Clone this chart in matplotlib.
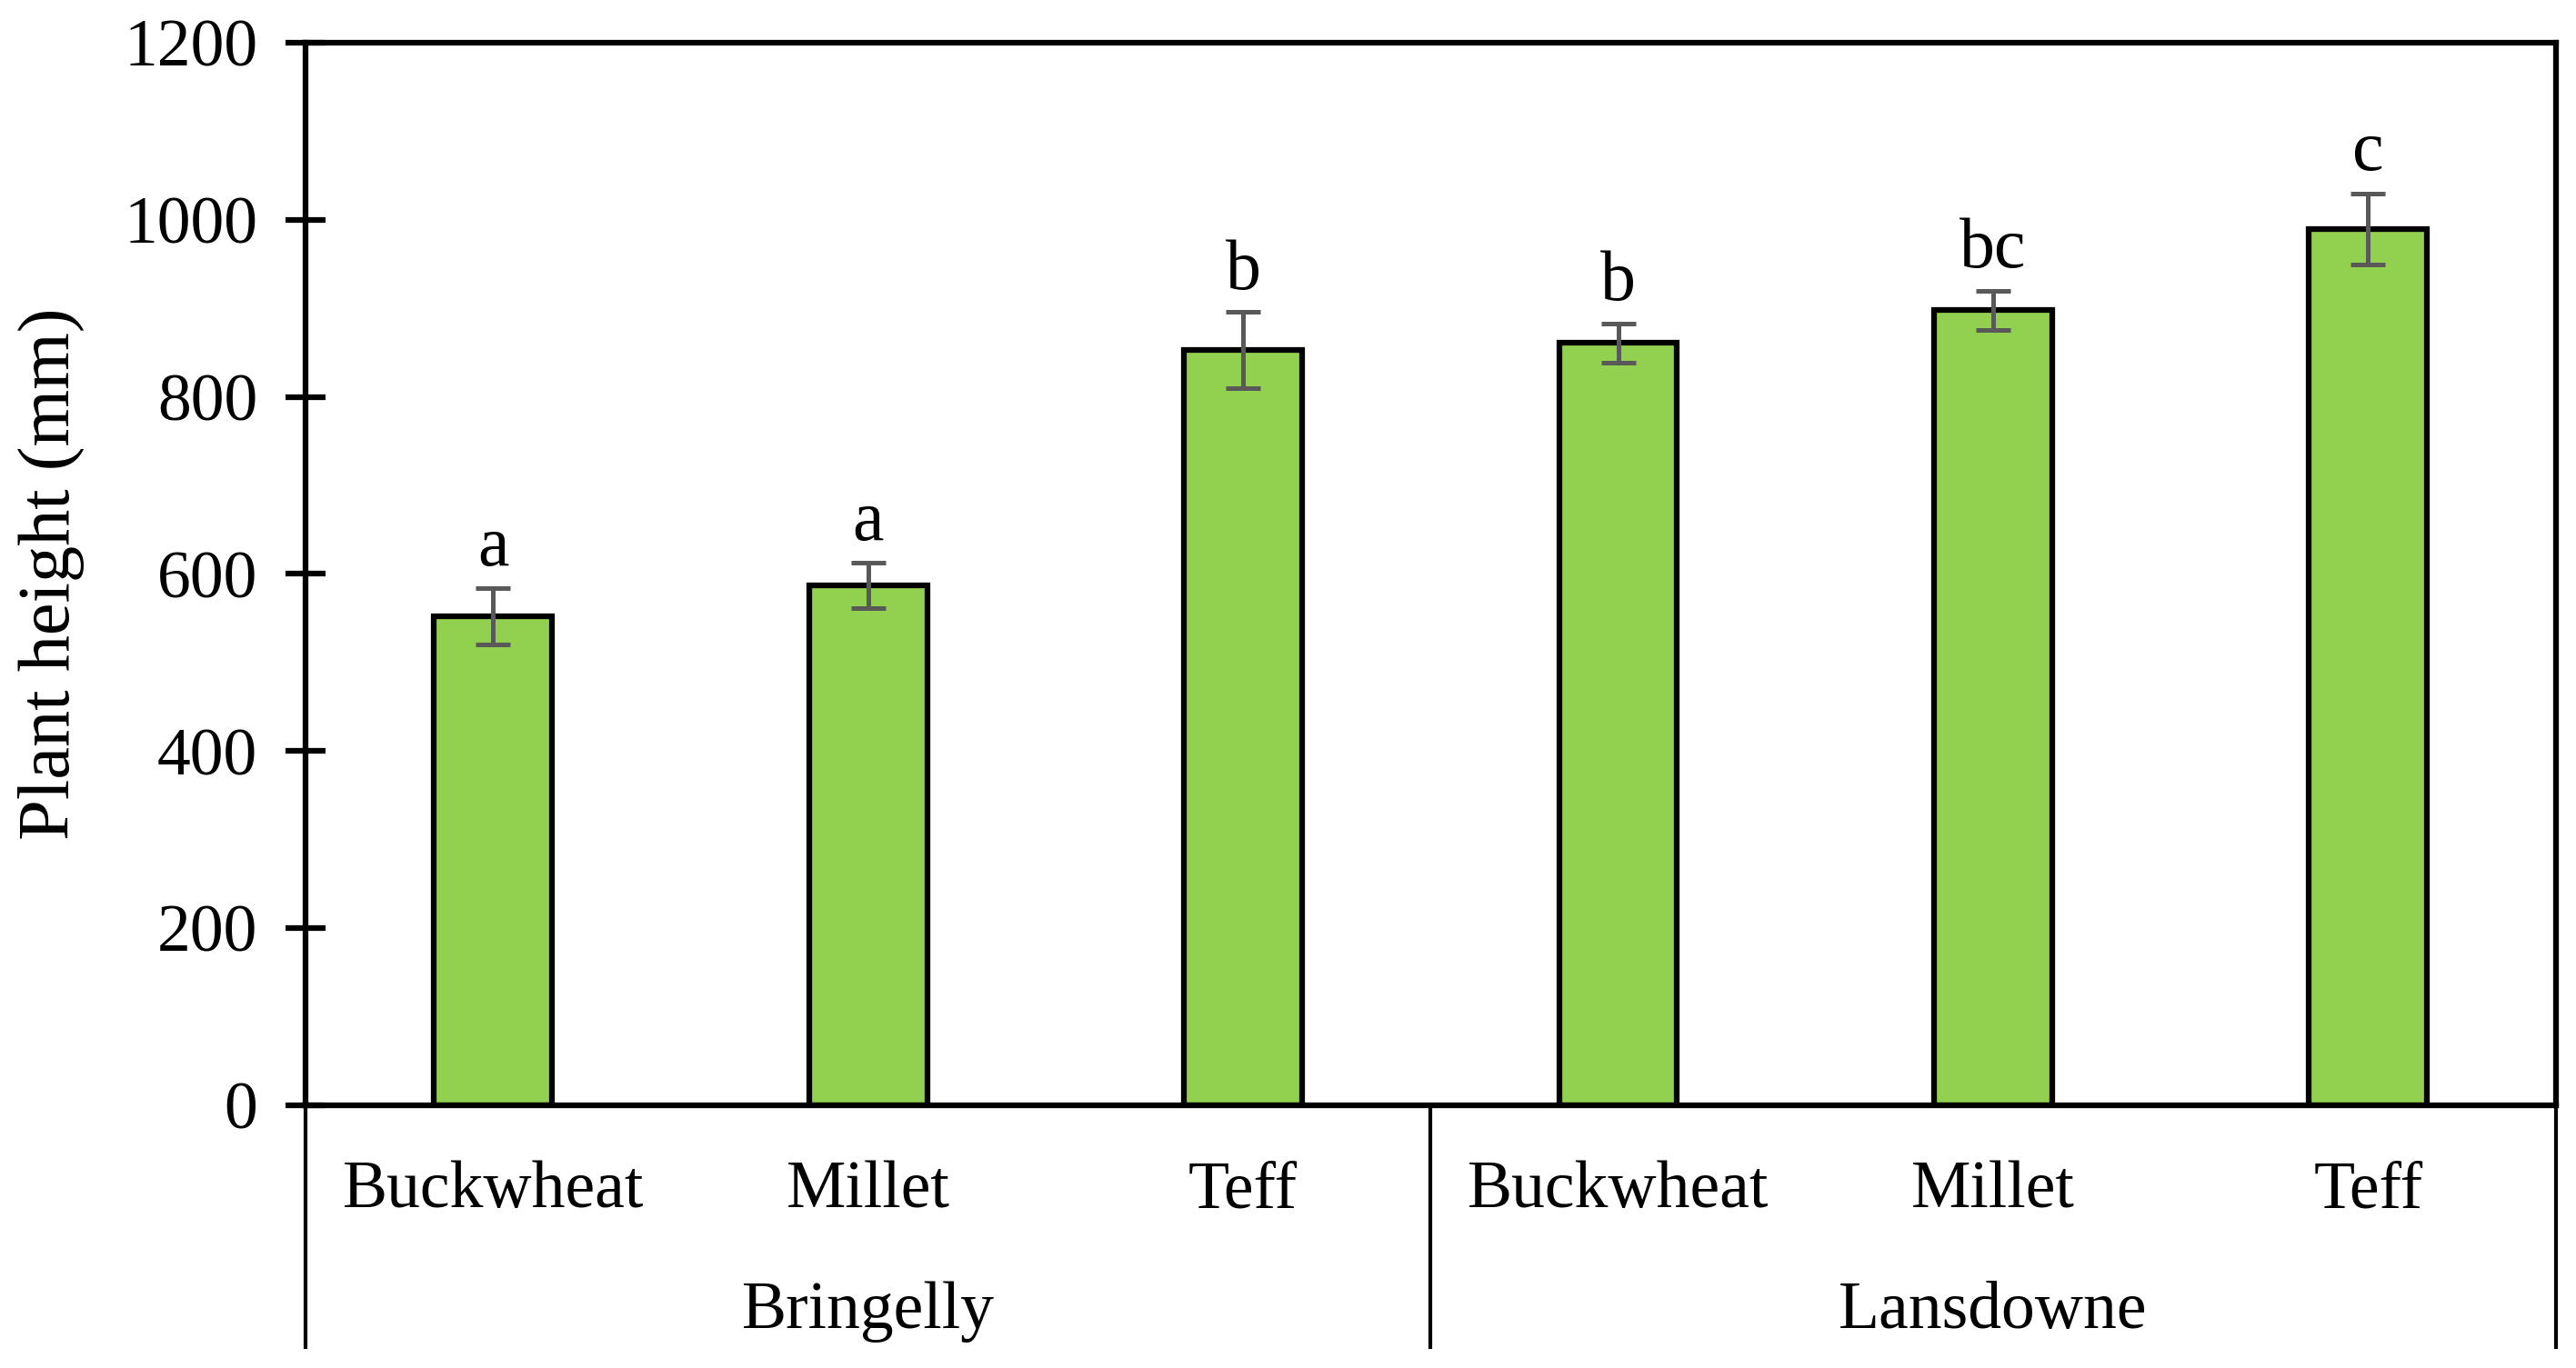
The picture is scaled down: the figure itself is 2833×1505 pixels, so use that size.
import numpy as np
import matplotlib.pyplot as plt

# 데이터
crops = ['Buckwheat', 'Millet', 'Teff', 'Buckwheat', 'Millet', 'Teff']
sites = ['Bringelly', 'Lansdowne']
heights = np.array([552, 587, 853, 861, 898, 990])
errors = np.array([32, 26, 43, 22, 22, 40])
letters = ['a', 'a', 'b', 'b', 'bc', 'c']

plt.rcParams['font.family'] = ['Liberation Serif', 'DejaVu Serif']

fig = plt.figure(figsize=(28.33, 15.05), dpi=100)
ax = fig.add_axes([0.1186, 0.192, 0.8735, 0.7768])

x = np.arange(len(crops))
ax.bar(x, heights, width=0.315, color='#92D050', edgecolor='black', linewidth=4.5, zorder=2)
ax.errorbar(x, heights, yerr=errors, fmt='none', ecolor='#595959', elinewidth=3.6,
            capsize=14, capthick=3.6, zorder=3)

# 유의성 문자
for xi, h, e, t in zip(x, heights, errors, letters):
    ax.text(xi, h + e + 26, t, ha='center', va='baseline', fontsize=56)

ax.set_xlim(-0.5, len(crops) - 0.5)
ax.set_ylim(0, 1200)
ax.set_yticks(np.arange(0, 1201, 200))
ax.tick_params(axis='y', direction='inout', length=32, width=4.5, labelsize=53, pad=22)
ax.set_xticks([])
for s in ax.spines.values():
    s.set_linewidth(4.5)

ax.set_ylabel('Plant height (mm)', fontsize=58)
ax.yaxis.set_label_coords(-0.098, 0.5)

# 두 단계 x축 라벨
trans = ax.get_xaxis_transform()
for xi, c in zip(x, crops):
    ax.text(xi, -0.0958, c, transform=trans, ha='center', va='baseline', fontsize=53)
for i, s in enumerate(sites):
    ax.text(i * 3 + 1, -0.2096, s, transform=trans, ha='center', va='baseline', fontsize=53)
for xb in [-0.5, 2.5, 5.5]:
    ax.plot([xb, xb], [0, -0.2276], transform=trans, color='black', linewidth=3, clip_on=False)

fig.savefig('out.png', dpi=100)
